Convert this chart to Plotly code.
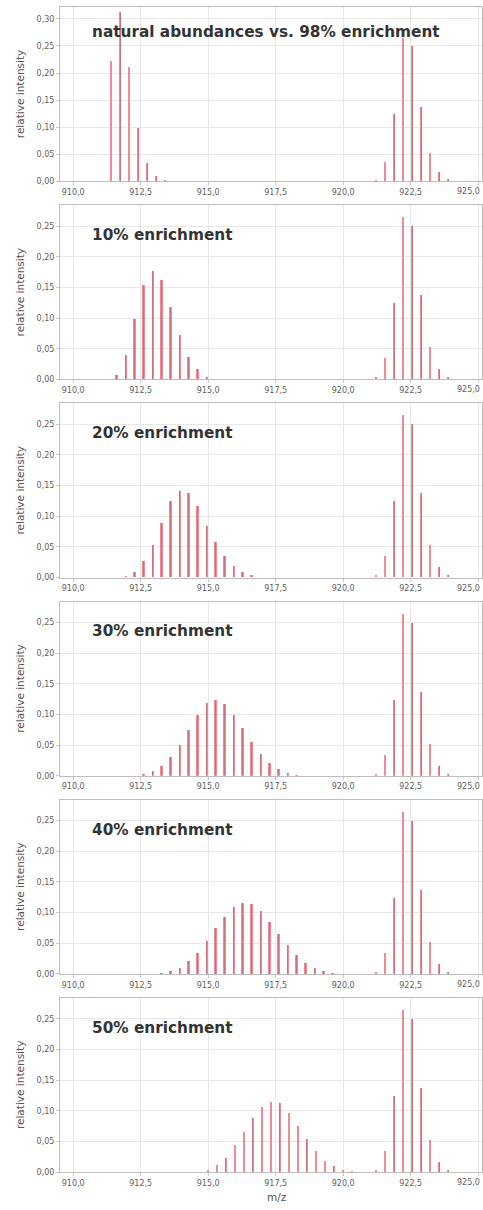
import plotly.graph_objects as go

# ---------------- data ----------------
panel_titles = ["natural abundances vs. 98% enrichment", "10% enrichment", "20% enrichment",
                "30% enrichment", "40% enrichment", "50% enrichment"]

nat_mz = [911.40, 911.74, 912.07, 912.41, 912.74, 913.08, 913.41]
nat_int = [0.222, 0.312, 0.212, 0.098, 0.034, 0.009, 0.002]

e10_mz = [911.60, 911.94, 912.27, 912.60, 912.94, 913.27, 913.60, 913.94, 914.27, 914.60, 914.94, 915.27]
e10_int = [0.007, 0.039, 0.099, 0.154, 0.177, 0.162, 0.117, 0.072, 0.037, 0.017, 0.004, 0.001]

e20_mz = [911.94, 912.27, 912.60, 912.94, 913.27, 913.60, 913.94, 914.27, 914.60, 914.94,
          915.27, 915.60, 915.94, 916.27, 916.60]
e20_int = [0.002, 0.008, 0.026, 0.052, 0.089, 0.124, 0.140, 0.137, 0.116, 0.084,
           0.057, 0.034, 0.018, 0.008, 0.003]

e30_mz = [912.27, 912.60, 912.94, 913.27, 913.60, 913.94, 914.27, 914.60, 914.94, 915.27,
          915.60, 915.94, 916.27, 916.60, 916.94, 917.27, 917.60, 917.94, 918.27]
e30_int = [0.001, 0.003, 0.008, 0.017, 0.031, 0.051, 0.075, 0.100, 0.119, 0.125,
           0.117, 0.100, 0.078, 0.056, 0.037, 0.022, 0.012, 0.006, 0.002]

e40_mz = [913.27, 913.60, 913.94, 914.27, 914.60, 914.94, 915.27, 915.60, 915.94, 916.27,
          916.60, 916.94, 917.27, 917.60, 917.94, 918.27, 918.60, 918.94, 919.27, 919.60]
e40_int = [0.002, 0.005, 0.011, 0.021, 0.035, 0.054, 0.075, 0.094, 0.109, 0.116,
           0.114, 0.103, 0.086, 0.066, 0.047, 0.031, 0.018, 0.010, 0.005, 0.002]

e50_mz = [914.65, 914.99, 915.32, 915.65, 915.99, 916.32, 916.65, 916.99, 917.32, 917.65,
          917.99, 918.32, 918.65, 918.99, 919.32, 919.65, 919.99, 920.32]
e50_int = [0.001, 0.003, 0.012, 0.024, 0.044, 0.066, 0.089, 0.106, 0.115, 0.113,
           0.097, 0.075, 0.054, 0.034, 0.019, 0.010, 0.004, 0.002]

enr98_mz = [921.22, 921.55, 921.89, 922.22, 922.56, 922.89, 923.22, 923.56, 923.89]
enr98_int = [0.003, 0.035, 0.124, 0.265, 0.250, 0.138, 0.053, 0.017, 0.004]

left_mz = [nat_mz, e10_mz, e20_mz, e30_mz, e40_mz, e50_mz]
left_int = [nat_int, e10_int, e20_int, e30_int, e40_int, e50_int]
y_max = [0.322, 0.284, 0.284, 0.284, 0.284, 0.284]

x_ticks = [910.0, 912.5, 915.0, 917.5, 920.0, 922.5, 925.0]
edge_tick = 925.0  # right-most tick, sits at the figure edge

# ---------------- layout ----------------
W, H = 483, 1210
ML, MR, MT, MB = 60, 0, 0, 0
PH = 175
PITCH = 199
TOP0 = 7

fig = go.Figure()

red = "rgba(240,118,132,0.85)"
core = "rgba(140,60,72,0.35)"
tick_font = dict(family="DejaVu Sans", size=8, color="#606060")

for i in range(6):
    xa = "x" if i == 0 else f"x{i+1}"
    ya = "y" if i == 0 else f"y{i+1}"
    mz = list(left_mz[i]) + enr98_mz
    inten = list(left_int[i]) + enr98_int
    fig.add_trace(go.Bar(x=mz, y=inten, width=0.08, marker=dict(color=red, line=dict(width=0)),
                         xaxis=xa, yaxis=ya, showlegend=False, hoverinfo="x+y"))
    fig.add_trace(go.Bar(x=mz, y=inten, width=0.022, marker=dict(color=core, line=dict(width=0)),
                         xaxis=xa, yaxis=ya, showlegend=False, hoverinfo="skip"))

    top = TOP0 + PITCH * i
    bot = top + PH
    dom = [1 - bot / H, 1 - top / H]
    axis_common = dict(showgrid=True, gridcolor="#e8e8e8", gridwidth=1,
                       showline=True, linecolor="#bdbdbd", linewidth=1, mirror=True,
                       zeroline=False, ticks="outside", ticklen=3, tickcolor="#c8c8c8",
                       tickfont=tick_font)
    xkey = "xaxis" if i == 0 else f"xaxis{i+1}"
    ykey = "yaxis" if i == 0 else f"yaxis{i+1}"
    fig.layout[xkey] = dict(domain=[0, 1], anchor=ya, range=[909.51, 925.14],
                            tickmode="array", tickvals=x_ticks, tickformat=".1f",
                            **axis_common)
    fig.layout[ykey] = dict(domain=dom, anchor=xa, range=[0, y_max[i]],
                            tick0=0, dtick=0.05, tickformat=".2f", **axis_common)

    # right-edge tick label, kept inside the figure
    fig.add_annotation(text=f"{edge_tick:.1f}".replace(".", ","), xref="paper", yref="paper",
                       x=1, y=1 - (bot + 4) / H, xanchor="right", yanchor="top",
                       showarrow=False, font=tick_font)

    # panel title
    fig.add_annotation(text=panel_titles[i], xref="paper", yref="paper",
                       x=30 / (W - ML), y=1 - (top + (25 if i == 0 else 30)) / H,
                       xanchor="left", yanchor="middle", showarrow=False,
                       font=dict(family="DejaVu Sans", size=15.3, color="#333333", weight="bold"))
    # y axis title
    fig.add_annotation(text="relative intensity", xref="paper", yref="paper",
                       x=(20 - ML) / (W - ML), y=1 - (top + PH / 2) / H,
                       xanchor="center", yanchor="middle", textangle=-90, showarrow=False,
                       font=dict(family="DejaVu Sans", size=10.5, color="#555555"))

fig.add_annotation(text="m/z", xref="paper", yref="paper",
                   x=(278 - ML) / (W - ML), y=1 - 1202 / H, xanchor="center", yanchor="middle",
                   showarrow=False, font=dict(family="DejaVu Sans", size=10.5, color="#555555"))

fig.update_layout(width=W, height=H, margin=dict(l=ML, r=MR, t=MT, b=MB),
                  paper_bgcolor="white", plot_bgcolor="white", barmode="overlay",
                  separators=",.", showlegend=False, bargap=0)

fig.write_html("out.html")
